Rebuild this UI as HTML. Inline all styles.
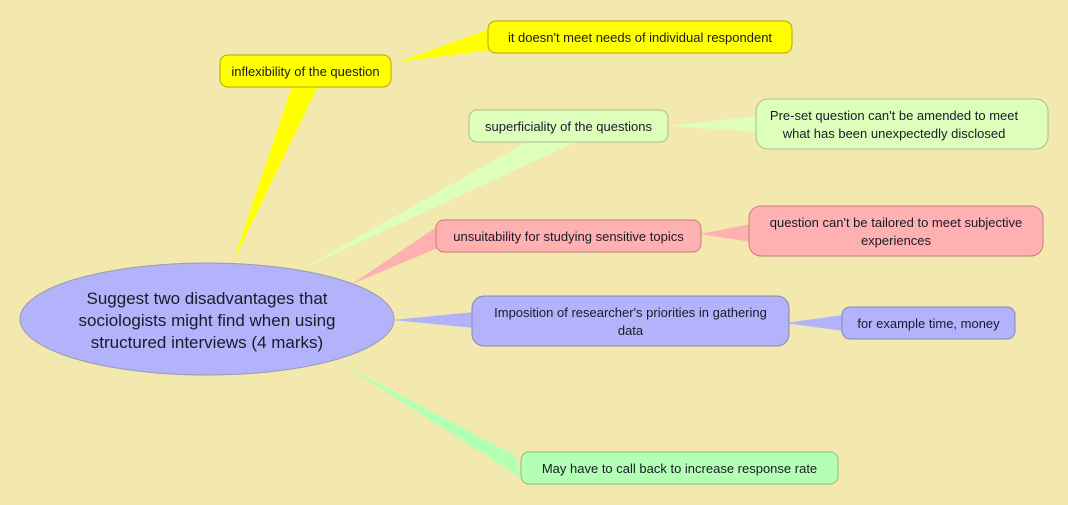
<!DOCTYPE html>
<html><head><meta charset="utf-8"><style>
html,body{margin:0;padding:0;background:#f3e9ae;}
svg{display:block;font-family:"Liberation Sans",Arial,sans-serif;}
text{fill:#1a1a2a;font-size:13px;text-anchor:middle;}
</style></head><body>
<svg width="1068" height="505" viewBox="0 0 1068 505">
<rect width="1068" height="505" fill="#f3e9ae"/>
<!-- connectors -->
<polygon points="233,262 292,86 318,86" fill="#ffff00"/>
<polygon points="398,62 490,29 490,50" fill="#ffff00"/>
<polygon points="300,270 530,140 580,140" fill="#ddffbb"/>
<polygon points="668,126 758,116 758,132" fill="#ddffbb"/>
<polygon points="352,284 438,226 438,248" fill="#ffb0b0"/>
<polygon points="700,234 751,224 751,242" fill="#ffb0b0"/>
<polygon points="392,320 474,312 474,328" fill="#b3b3fb"/>
<polygon points="784,323 844,315 844,331" fill="#b3b3fb"/>
<polygon points="342,364 514,455 523,479" fill="#b3ffb3"/>
<!-- center -->
<ellipse cx="207" cy="319" rx="187" ry="56" fill="#b3b3fb" stroke="#9a9ab0" stroke-width="1"/>
<text x="207" y="304" style="font-size:17px">Suggest two disadvantages that</text>
<text x="207" y="326" style="font-size:17px">sociologists might find when using</text>
<text x="207" y="348" style="font-size:17px">structured interviews (4 marks)</text>
<!-- nodes -->
<rect x="220" y="55" width="171" height="32" rx="8" fill="#ffff00" stroke="#b3a800"/>
<text x="305.5" y="76">inflexibility of the question</text>
<rect x="488" y="21" width="304" height="32" rx="8" fill="#ffff00" stroke="#b3a800"/>
<text x="640" y="42">it doesn't meet needs of individual respondent</text>
<rect x="469" y="110" width="199" height="32" rx="8" fill="#ddffbb" stroke="#a6c08a"/>
<text x="568.5" y="131">superficiality of the questions</text>
<rect x="756" y="99" width="292" height="50" rx="12" fill="#ddffbb" stroke="#a6c08a"/>
<text x="894" y="120">Pre-set question can't be amended to meet</text>
<text x="894" y="138">what has been unexpectedly disclosed</text>
<rect x="436" y="220" width="265" height="32" rx="8" fill="#ffb0b0" stroke="#c08080"/>
<text x="568.5" y="241">unsuitability for studying sensitive topics</text>
<rect x="749" y="206" width="294" height="50" rx="12" fill="#ffb0b0" stroke="#c08080"/>
<text x="896" y="227">question can't be tailored to meet subjective</text>
<text x="896" y="245">experiences</text>
<rect x="472" y="296" width="317" height="50" rx="12" fill="#b3b3fb" stroke="#8585b8"/>
<text x="630.5" y="317">Imposition of researcher's priorities in gathering</text>
<text x="630.5" y="335">data</text>
<rect x="842" y="307" width="173" height="32" rx="8" fill="#b3b3fb" stroke="#8585b8"/>
<text x="928.5" y="328">for example time, money</text>
<rect x="521" y="452" width="317" height="32" rx="8" fill="#b3ffb3" stroke="#86c086"/>
<text x="679.5" y="473">May have to call back to increase response rate</text>
</svg>
</body></html>
